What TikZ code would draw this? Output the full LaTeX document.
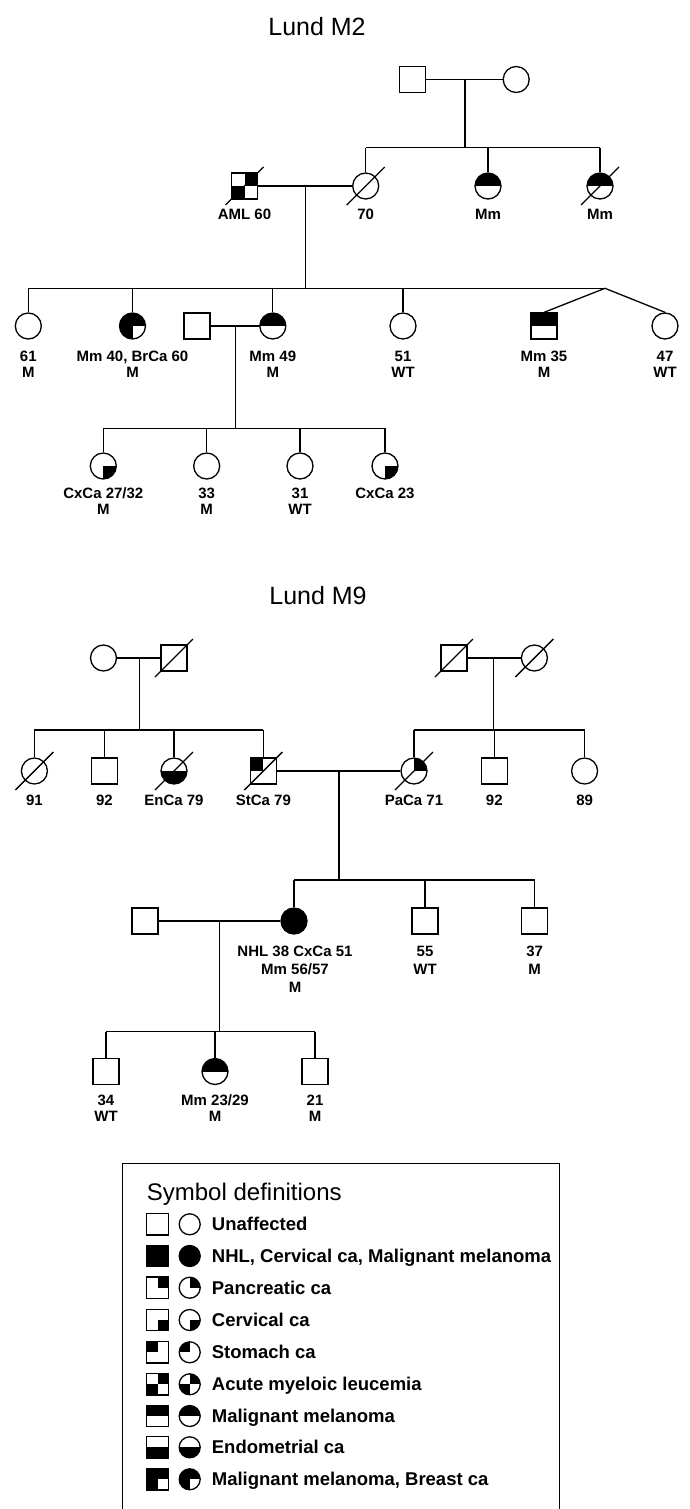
\documentclass[tikz,border=0pt]{standalone}
\usepackage{fontspec}
\setmainfont{Liberation Sans}
\newcommand\deceased[1]{\draw[ln] ([shift={(-19pt,-19pt)}]#1.center) -- ([shift={(19pt,19pt)}]#1.center);}
\begin{document}
\begin{tikzpicture}[x=1pt,y=-1pt,
  ln/.style={line width=1.3pt},
  sq/.style={draw,line width=1.3pt,rectangle,minimum size=26pt,inner sep=0pt,fill=white},
  ci/.style={draw,line width=1.3pt,circle,minimum size=26pt,inner sep=0pt,fill=white},
  lsq/.style={sq,minimum size=21.5pt},
  lci/.style={ci,minimum size=21pt},
  lbl/.style={font=\bfseries\fontsize{15}{16}\selectfont,align=center,inner sep=0pt},
  lblw/.style={font=\bfseries\fontsize{15}{18}\selectfont,align=center,inner sep=0pt},
  ttl/.style={font=\fontsize{25}{28}\selectfont,anchor=base,inner sep=0pt},
  leg/.style={font=\bfseries\fontsize{18.5}{20}\selectfont,anchor=base west,inner sep=0pt},
  full/.style={fill=black},
  qTR/.style={path picture={\fill[black] (path picture bounding box.center) rectangle (path picture bounding box.north east);}},
  qBR/.style={path picture={\fill[black] (path picture bounding box.center) rectangle (path picture bounding box.south east);}},
  qTL/.style={path picture={\fill[black] (path picture bounding box.center) rectangle (path picture bounding box.north west);}},
  hT/.style={path picture={\fill[black] (path picture bounding box.west) rectangle (path picture bounding box.north east);}},
  hB/.style={path picture={\fill[black] (path picture bounding box.west) rectangle (path picture bounding box.south east);}},
  qAML/.style={path picture={\fill[black] (path picture bounding box.center) rectangle (path picture bounding box.north east);
     \fill[black] (path picture bounding box.center) rectangle (path picture bounding box.south west);}},
  q3/.style={path picture={\fill[black] (path picture bounding box.north west) rectangle (path picture bounding box.east);
     \fill[black] (path picture bounding box.west) rectangle (path picture bounding box.south);}},
]
\useasboundingbox[fill=white] (0,0) rectangle (690,1509);

% ================= Lund M2 =================
\node[ttl] (t2) at (317,36) {Lund M2};

% generation 1
\node[sq] (g1f) at (412.7,79.5) {};
\node[ci] (g1m) at (516.2,79.5) {};
\draw[ln] (g1f) -- (g1m);
\coordinate (d1) at (465,79.5);
\coordinate (s2) at (465,147.7);
\draw[ln] (d1) -- (s2);

% generation 2
\node[sq,qAML] (aml) at (244.5,186) {};
\node[ci] (c70) at (365.7,186) {};
\node[ci,hT] (mmA) at (488,186) {};
\node[ci,hT] (mmB) at (600,186) {};
\draw[ln] (c70 |- s2) -- (mmB |- s2);
\draw[ln] (c70 |- s2) -- (c70.north);
\draw[ln] (mmA |- s2) -- (mmA.north);
\draw[ln] (mmB |- s2) -- (mmB.north);
\draw[ln] (aml) -- (c70);
\deceased{aml}
\deceased{c70}
\deceased{mmB}
\coordinate (d2) at (305.7,186);
\coordinate (s3) at (305.7,288.3);
\draw[ln] (d2) -- (s3);
\node[lbl] (laml) at (244.5,214) {AML 60};
\node[lbl] (l70) at (365.7,214) {70};
\node[lbl] (lmmA) at (488,214) {Mm};
\node[lbl] (lmmB) at (600,214) {Mm};

% generation 3
\node[ci] (c61) at (28.3,326) {};
\node[ci,q3] (c40) at (132.5,326) {};
\node[sq] (sp3) at (197,326) {};
\node[ci,hT] (c49) at (272.8,326) {};
\node[ci] (c51) at (403,326) {};
\node[sq,hT] (s35) at (544,326) {};
\node[ci] (c47) at (665,326) {};
\coordinate (tw) at (605,288.3);
\draw[ln] (c61 |- s3) -- (tw);
\draw[ln] (c61 |- s3) -- (c61.north);
\draw[ln] (c40 |- s3) -- (c40.north);
\draw[ln] (c49 |- s3) -- (c49.north);
\draw[ln] (c51 |- s3) -- (c51.north);
\draw[ln] (tw) -- (s35.north);
\draw[ln] (tw) -- (c47.north);
\draw[ln] (sp3) -- (c49);
\coordinate (d3) at (235.5,326);
\coordinate (s4) at (235.5,428.3);
\draw[ln] (d3) -- (s4);
\node[lbl] (l61) at (28.3,364.5) {61\\M};
\node[lbl] (l40) at (132.5,364.5) {Mm 40, BrCa 60\\M};
\node[lbl] (l49) at (272.8,364.5) {Mm 49\\M};
\node[lbl] (l51) at (403,364.5) {51\\WT};
\node[lbl] (l35) at (544,364.5) {Mm 35\\M};
\node[lbl] (l47) at (665,364.5) {47\\WT};

% generation 4
\node[ci,qBR] (k1) at (103.3,466) {};
\node[ci] (k2) at (206.7,466) {};
\node[ci] (k3) at (300,466) {};
\node[ci,qBR] (k4) at (385,466) {};
\draw[ln] (k1 |- s4) -- (k4 |- s4);
\draw[ln] (k1 |- s4) -- (k1.north);
\draw[ln] (k2 |- s4) -- (k2.north);
\draw[ln] (k3 |- s4) -- (k3.north);
\draw[ln] (k4 |- s4) -- (k4.north);
\node[lbl] (lk1) at (103.3,501) {CxCa 27/32\\M};
\node[lbl] (lk2) at (206.7,501) {33\\M};
\node[lbl] (lk3) at (300,501) {31\\WT};
\node[lbl] (lk4) at (385,493) {CxCa 23};

% ================= Lund M9 =================
\node[ttl] (t9) at (318,604) {Lund M9};

% generation 1
\node[ci] (a1m) at (103.5,658) {};
\node[sq] (a1f) at (174,658) {};
\draw[ln] (a1m) -- (a1f);
\deceased{a1f}
\coordinate (e1) at (139.6,658);
\coordinate (u2) at (139.6,730);
\draw[ln] (e1) -- (u2);
\node[sq] (b1f) at (454,658) {};
\node[ci] (b1m) at (534.4,658) {};
\draw[ln] (b1f) -- (b1m);
\deceased{b1f}
\deceased{b1m}
\coordinate (e2) at (493.4,658);
\coordinate (v2) at (493.4,730);
\draw[ln] (e2) -- (v2);

% generation 2
\node[ci] (n91) at (34.4,771) {};
\node[sq] (n92) at (104.4,771) {};
\node[ci,hB] (nen) at (174,771) {};
\node[sq,qTL] (nst) at (263.4,771) {};
\draw[ln] (n91 |- u2) -- (nst |- u2);
\draw[ln] (n91 |- u2) -- (n91.north);
\draw[ln] (n92 |- u2) -- (n92.north);
\draw[ln] (nen |- u2) -- (nen.north);
\draw[ln] (nst |- u2) -- (nst.north);
\node[ci,qTR] (npa) at (414,771) {};
\node[sq] (n92b) at (494.3,771) {};
\node[ci] (n89) at (584.6,771) {};
\draw[ln] (npa |- v2) -- (n89 |- v2);
\draw[ln] (npa |- v2) -- (npa.north);
\draw[ln] (n92b |- v2) -- (n92b.north);
\draw[ln] (n89 |- v2) -- (n89.north);
\draw[ln] (nst) -- (npa);
\deceased{n91}
\deceased{nen}
\deceased{nst}
\deceased{npa}
\coordinate (e3) at (339,771);
\coordinate (u3) at (339,880);
\draw[ln] (e3) -- (u3);
\node[lbl] (m91) at (34.4,800) {91};
\node[lbl] (m92) at (104.4,800) {92};
\node[lbl] (men) at (174,800) {EnCa 79};
\node[lbl] (mst) at (263.4,800) {StCa 79};
\node[lbl] (mpa) at (414,800) {PaCa 71};
\node[lbl] (m92b) at (494.3,800) {92};
\node[lbl] (m89) at (584.6,800) {89};

% generation 3
\node[sq] (sp9) at (145,921) {};
\node[ci,full] (nhl) at (294,921) {};
\node[sq] (n55) at (425,921) {};
\node[sq] (n37) at (534.7,921) {};
\draw[ln] (nhl |- u3) -- (n37 |- u3);
\draw[ln] (nhl |- u3) -- (nhl.north);
\draw[ln] (n55 |- u3) -- (n55.north);
\draw[ln] (n37 |- u3) -- (n37.north);
\draw[ln] (sp9) -- (nhl);
\coordinate (e4) at (219.5,921);
\coordinate (u4) at (219.5,1031.7);
\draw[ln] (e4) -- (u4);
\node[lblw] (mnhl) at (295,969) {NHL 38 CxCa 51\\Mm 56/57\\M};
\node[lblw] (m55) at (425,960) {55\\WT};
\node[lblw] (m37) at (534.7,960) {37\\M};

% generation 4
\node[sq] (n34) at (106,1071.5) {};
\node[ci,hT] (n23) at (215,1071.5) {};
\node[sq] (n21) at (315,1071.5) {};
\draw[ln] (n34 |- u4) -- (n21 |- u4);
\draw[ln] (n34 |- u4) -- (n34.north);
\draw[ln] (n23 |- u4) -- (n23.north);
\draw[ln] (n21 |- u4) -- (n21.north);
\node[lbl] (m34) at (106,1108) {34\\WT};
\node[lbl] (m23) at (215,1108) {Mm 23/29\\M};
\node[lbl] (m21) at (315,1108) {21\\M};

% ================= Legend =================
\draw[ln] (122.7,1512) -- (122.7,1163.3) -- (559.3,1163.3) -- (559.3,1512);
\node[font=\fontsize{24}{26}\selectfont,anchor=base west,inner sep=0pt] (lh) at (146.7,1200) {Symbol definitions};

\node[lsq] (ls1) at (157.5,1224.3) {};
\node[lci] (lc1) at (189.7,1224.3) {};
\node[leg] (lt1) at (211.7,1230.9) {Unaffected};

\node[lsq,full] (ls2) at (157.5,1256) {};
\node[lci,full] (lc2) at (189.7,1256) {};
\node[leg] (lt2) at (211.7,1262.6) {NHL, Cervical ca, Malignant melanoma};

\node[lsq,qTR] (ls3) at (157.5,1287.7) {};
\node[lci,qTR] (lc3) at (189.7,1287.7) {};
\node[leg] (lt3) at (211.7,1294.3) {Pancreatic ca};

\node[lsq,qBR] (ls4) at (157.5,1320) {};
\node[lci,qBR] (lc4) at (189.7,1320) {};
\node[leg] (lt4) at (211.7,1326.6) {Cervical ca};

\node[lsq,qTL] (ls5) at (157.5,1352.3) {};
\node[lci,qTL] (lc5) at (189.7,1352.3) {};
\node[leg] (lt5) at (211.7,1358.9) {Stomach ca};

\node[lsq,qAML] (ls6) at (157.5,1384.3) {};
\node[lci,qAML] (lc6) at (189.7,1384.3) {};
\node[leg] (lt6) at (211.7,1390.9) {Acute myeloic leucemia};

\node[lsq,hT] (ls7) at (157.5,1416) {};
\node[lci,hT] (lc7) at (189.7,1416) {};
\node[leg] (lt7) at (211.7,1422.6) {Malignant melanoma};

\node[lsq,hB] (ls8) at (157.5,1447.3) {};
\node[lci,hB] (lc8) at (189.7,1447.3) {};
\node[leg] (lt8) at (211.7,1453.9) {Endometrial ca};

\node[lsq,q3] (ls9) at (157.5,1479.3) {};
\node[lci,q3] (lc9) at (189.7,1479.3) {};
\node[leg] (lt9) at (211.7,1485.9) {Malignant melanoma, Breast ca};
\end{tikzpicture}
\end{document}
